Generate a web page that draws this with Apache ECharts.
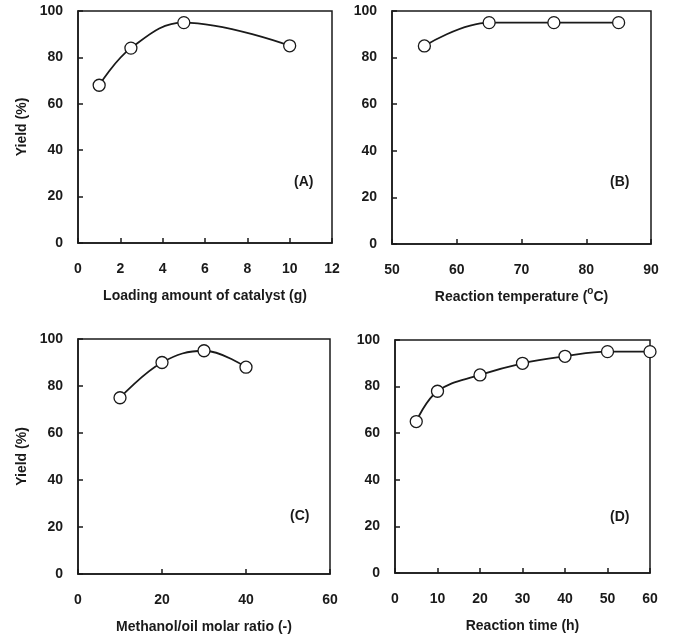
<!DOCTYPE html>
<html><head><meta charset="utf-8">
<script src="https://cdn.jsdelivr.net/npm/echarts@6/dist/echarts.min.js"></script>
<style>html,body{margin:0;padding:0;background:#fff}#c{width:675px;height:637px}</style>
</head><body><div id="c"></div>
<script>
// Data
const catalystX = [1, 2.5, 5, 10];
const catalystY = [68, 84, 95, 85];
const tempX = [55, 65, 75, 85];
const tempY = [85, 95, 95, 95];
const ratioX = [10, 20, 30, 40];
const ratioY = [75, 90, 95, 88];
const timeX = [5, 10, 20, 30, 40, 50, 60];
const timeY = [65, 78, 85, 90, 93, 95, 95];
const panelLabels = ['(A)', '(B)', '(C)', '(D)'];
const xNames = ['Loading amount of catalyst (g)', '{n|Reaction temperature (}{s|o}{n|C)}', 'Methanol/oil molar ratio (-)', 'Reaction time (h)'];
const yName = 'Yield (%)';

const FONT = '"Liberation Sans", Arial, sans-serif';
const INK = '#1a1a1a';
const chart = echarts.init(document.getElementById('c'));

const grids = [
  {left: 78, top: 11, width: 254, height: 232},
  {left: 392, top: 11, width: 259, height: 233},
  {left: 78, top: 339, width: 252, height: 235},
  {left: 395, top: 340, width: 255, height: 233}
];
const xRanges = [[0, 12, 2], [50, 90, 10], [0, 60, 20], [0, 60, 10]];
const xNameGaps = [46, 42, 46, 46];
const seriesData = [[catalystX, catalystY], [tempX, tempY], [ratioX, ratioY], [timeX, timeY]];

const labelStyle = {fontFamily: FONT, fontWeight: 'bold', fontSize: 14, color: INK};
const nameStyle = {fontFamily: FONT, fontWeight: 'bold', fontSize: 14, color: INK,
  rich: {n: {fontFamily: FONT, fontWeight: 'bold', fontSize: 14, color: INK},
         s: {fontFamily: FONT, fontWeight: 'bold', fontSize: 10, color: INK, verticalAlign: 'bottom', padding: [0, 0, 13, 0]}}};

const option = {
  animation: false,
  backgroundColor: '#fff',
  grid: grids.map(g => Object.assign({show: true, borderColor: INK, borderWidth: 1.5, backgroundColor: 'transparent'}, g)),
  xAxis: xRanges.map((r, i) => ({
    type: 'value', gridIndex: i, min: r[0], max: r[1], interval: r[2],
    name: xNames[i], nameLocation: 'middle', nameGap: xNameGaps[i], nameTextStyle: nameStyle,
    axisLine: {show: true, lineStyle: {color: INK, width: 1.5}},
    axisTick: {show: true, inside: true, length: 5, lineStyle: {color: INK, width: 1.5}},
    axisLabel: Object.assign({margin: 19}, labelStyle),
    splitLine: {show: false}
  })),
  yAxis: [0, 1, 2, 3].map(i => ({
    type: 'value', gridIndex: i, min: 0, max: 100, interval: 20,
    name: (i % 2 === 0) ? yName : '', nameLocation: 'middle', nameGap: 49, nameRotate: 90,
    nameTextStyle: nameStyle,
    axisLine: {show: true, lineStyle: {color: INK, width: 1.5}},
    axisTick: {show: true, inside: true, length: 5, lineStyle: {color: INK, width: 1.5}},
    axisLabel: Object.assign({margin: 15}, labelStyle),
    splitLine: {show: false}
  })),
  series: seriesData.map((d, i) => ({
    type: 'line', xAxisIndex: i, yAxisIndex: i,
    data: d[0].map((x, k) => [x, d[1][k]]),
    smooth: 0.4, clip: false,
    symbol: 'circle', symbolSize: 12,
    lineStyle: {color: INK, width: 1.8},
    itemStyle: {color: '#fff', borderColor: INK, borderWidth: 1.3}
  })),
  graphic: [
    {type: 'text', left: 294, top: 175, style: {text: panelLabels[0], font: 'bold 14px ' + FONT, fill: INK}},
    {type: 'text', left: 610, top: 175, style: {text: panelLabels[1], font: 'bold 14px ' + FONT, fill: INK}},
    {type: 'text', left: 290, top: 509, style: {text: panelLabels[2], font: 'bold 14px ' + FONT, fill: INK}},
    {type: 'text', left: 610, top: 510, style: {text: panelLabels[3], font: 'bold 14px ' + FONT, fill: INK}}
  ]
};
chart.setOption(option);
</script></body></html>
